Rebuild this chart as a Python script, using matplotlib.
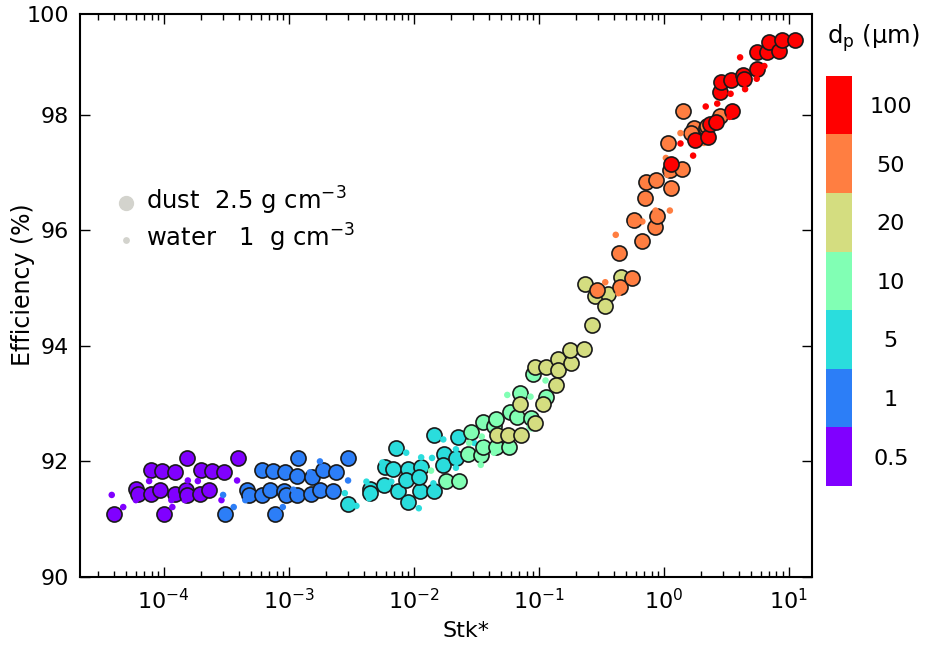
import numpy as np
import matplotlib.pyplot as plt
from matplotlib.colors import ListedColormap, BoundaryNorm
from matplotlib.cm import ScalarMappable
from matplotlib.ticker import LogLocator, NullFormatter

# particle diameters (um) and their colour classes
dp_labels = ['0.5', '1', '5', '10', '20', '50', '100']

# dust particles (2.5 g cm-3): log10(Stk*) and efficiency (%) per diameter class
dust_05_logstk = [-4.396, -4.223, -4.209, -4.104, -4.104, -4.032, -4.010, -3.998, -3.912, -3.912,
                  -3.817, -3.825, -3.811, -3.711, -3.700, -3.639, -3.612, -3.520, -3.408]
dust_05_eff = [91.09, 91.52, 91.44, 91.85, 91.44, 91.51, 91.84, 91.09, 91.81, 91.44,
               92.06, 91.51, 91.42, 91.44, 91.85, 91.51, 91.84, 91.81, 92.06]
dust_1_logstk = [-3.506, -3.334, -3.321, -3.214, -3.214, -3.148, -3.127, -3.108, -3.029, -3.037, -3.021,
                 -2.936, -2.923, -2.931, -2.816, -2.824, -2.750, -2.724, -2.644, -2.623, -2.525]
dust_1_eff = [91.09, 91.51, 91.42, 91.85, 91.42, 91.51, 91.84, 91.09, 91.81, 91.49, 91.42,
              91.74, 92.06, 91.42, 91.73, 91.44, 91.51, 91.85, 91.49, 91.82, 92.06]
dust_5_logstk = [-2.525, -2.352, -2.346, -2.240, -2.232, -2.166, -2.139, -2.127, -2.047, -2.047,
                 -2.060, -1.948, -1.940, -1.954, -1.834, -1.834, -1.755, -1.768, -1.662, -1.643]
dust_5_eff = [91.26, 91.52, 91.45, 91.59, 91.91, 91.87, 92.23, 91.49, 91.29, 91.87,
              91.67, 91.49, 91.90, 91.73, 91.49, 92.46, 92.13, 91.94, 92.06, 92.42]
dust_10_logstk = [-1.741, -1.635, -1.569, -1.542, -1.458, -1.444, -1.444, -1.357, -1.338, -1.343,
                  -1.237, -1.232, -1.171, -1.065, -1.150, -1.046, -0.940]
dust_10_eff = [91.66, 91.66, 92.13, 92.51, 92.11, 92.25, 92.69, 92.61, 92.73, 92.25,
               92.25, 92.86, 92.77, 92.75, 93.19, 93.52, 93.12]
dust_20_logstk = [-1.330, -1.243, -1.144, -1.152, -0.969, -1.030, -1.030, -0.945, -0.845, -0.847,
                  -0.861, -0.738, -0.746, -0.640, -0.574, -0.632, -0.547, -0.447, -0.467, -0.343]
dust_20_eff = [92.46, 92.46, 92.46, 92.99, 92.99, 92.66, 93.64, 93.64, 93.77, 93.58,
               93.32, 93.70, 93.93, 93.95, 94.36, 95.07, 94.87, 94.90, 94.69, 95.19]
dust_50_logstk = [-0.534, -0.348, -0.250, -0.361, -0.176, -0.069, -0.049, -0.234, -0.149, -0.141, -0.057,
                  0.058, 0.050, 0.150, 0.037, 0.156, 0.244, 0.222, 0.342, 0.350, 0.448]
dust_50_eff = [94.96, 95.02, 95.17, 95.61, 95.81, 96.06, 96.25, 96.17, 96.56, 96.83, 96.86,
               96.73, 97.04, 97.06, 97.51, 98.07, 97.77, 97.69, 97.77, 97.81, 97.97]
dust_100_logstk = [0.063, 0.249, 0.355, 0.369, 0.422, 0.546, 0.448, 0.456, 0.541, 0.634,
                   0.647, 0.748, 0.748, 0.825, 0.846, 0.926, 0.944, 1.050]
dust_100_eff = [97.15, 97.56, 97.61, 97.84, 97.87, 98.07, 98.39, 98.57, 98.59, 98.69,
                98.62, 98.79, 99.08, 99.08, 99.25, 99.10, 99.29, 99.29]

# water droplets (1 g cm-3)
water_05_logstk = [-4.416, -4.324, -4.223, -4.117, -3.939, -3.931, -3.830, -3.807, -3.727, -3.538, -3.413]
water_05_eff = [91.42, 91.21, 91.33, 91.66, 91.33, 91.21, 91.33, 91.67, 91.66, 91.33, 91.67]
water_1_logstk = [-3.525, -3.440, -3.347, -3.228, -3.047, -2.963, -2.830, -2.750, -2.525]
water_1_eff = [91.42, 91.21, 91.33, 91.80, 91.21, 91.51, 91.81, 92.00, 91.67]
water_5_logstk = [-2.551, -2.458, -2.378, -2.357, -2.251, -2.179, -2.060, -1.959, -1.940, -1.853,
                  -1.842, -1.763, -1.662, -1.662, -1.516]
water_5_eff = [91.45, 91.23, 91.65, 91.36, 91.98, 91.65, 92.15, 91.19, 92.07, 92.06,
               91.62, 92.38, 92.21, 91.89, 92.32]
water_10_logstk = [-1.861, -1.556, -1.463, -1.455, -1.357, -1.251, -1.072, -1.065, -0.945, -1.057]
water_10_eff = [91.84, 92.32, 91.94, 92.43, 92.15, 93.15, 92.60, 93.12, 93.40, 92.57]
water_20_logstk = []
water_20_eff = []
water_50_logstk = [-0.467, -0.383, -0.361, -0.256, -0.170, -0.064, 0.050, 0.018, 0.031, 0.135, 0.323]
water_50_eff = [95.10, 95.92, 94.91, 96.12, 96.15, 96.34, 96.34, 97.25, 96.96, 97.68, 97.51]
water_100_logstk = [0.135, 0.236, 0.337, 0.429, 0.536, 0.528, 0.612, 0.745, 0.806, 0.652]
water_100_eff = [97.50, 97.29, 98.14, 98.19, 98.36, 97.96, 98.99, 98.62, 98.84, 98.44]

dust_groups = [(dust_05_logstk, dust_05_eff), (dust_1_logstk, dust_1_eff), (dust_5_logstk, dust_5_eff),
               (dust_10_logstk, dust_10_eff), (dust_20_logstk, dust_20_eff), (dust_50_logstk, dust_50_eff),
               (dust_100_logstk, dust_100_eff)]
water_groups = [(water_05_logstk, water_05_eff), (water_1_logstk, water_1_eff), (water_5_logstk, water_5_eff),
                (water_10_logstk, water_10_eff), (water_20_logstk, water_20_eff), (water_50_logstk, water_50_eff),
                (water_100_logstk, water_100_eff)]

colors = plt.cm.rainbow(np.linspace(0, 1, len(dp_labels)))

plt.rcParams['font.family'] = 'DejaVu Sans'
fig = plt.figure(figsize=(9.27, 6.46), dpi=100)
ax = fig.add_axes([0.0863, 0.1068, 0.790, 0.8715])

for i, c in enumerate(colors):
    ls, ef = dust_groups[i]
    ax.scatter(10 ** np.array(ls), ef, s=118, color=c, edgecolors='#1a1a1a', linewidths=1.2, zorder=3)
    ls, ef = water_groups[i]
    if ls:
        ax.scatter(10 ** np.array(ls), ef, s=22, color=c, edgecolors='none', zorder=3)

ax.set_xscale('log')
ax.set_xlim(10 ** -4.67, 10 ** 1.19)
ax.set_ylim(90, 99.74)
ax.set_yticks([90, 92, 94, 96, 98, 99.74], ['90', '92', '94', '96', '98', '100'])
ax.xaxis.set_minor_locator(LogLocator(base=10, subs=np.arange(2, 10), numticks=20))
ax.xaxis.set_minor_formatter(NullFormatter())
ax.tick_params(which='both', direction='in', top=True, right=True, labelsize=16, width=1)
ax.tick_params(which='major', length=7, pad=8)
ax.tick_params(which='minor', length=4)
ax.yaxis.get_major_ticks()[-1].tick1line.set_visible(False)
ax.yaxis.get_major_ticks()[-1].tick2line.set_visible(False)
for sp in ax.spines.values():
    sp.set_linewidth(1.5)

ax.set_xlabel('Stk*', fontsize=16)
ax.xaxis.set_label_coords(0.527, -0.078)
ax.set_ylabel('Efficiency (%)', fontsize=17)
ax.yaxis.set_label_coords(-0.061, 0.52)

# density legend in grey
h1 = ax.scatter([], [], s=100, color='#d3d3cd')
h2 = ax.scatter([], [], s=15, color='#d3d3cd')
ax.legend([h1, h2], ['dust  2.5 g cm$^{-3}$', 'water   1  g cm$^{-3}$'],
          loc='center left', bbox_to_anchor=(0.0, 0.635), frameon=False,
          fontsize=17.5, handletextpad=-0.2, labelspacing=0.2, scatterpoints=1)

# discrete diameter colour bar
cmap = ListedColormap(colors)
norm = BoundaryNorm(np.arange(len(dp_labels) + 1), cmap.N)
cax = fig.add_axes([0.891, 0.2477, 0.028, 0.635])
cbar = fig.colorbar(ScalarMappable(norm=norm, cmap=cmap), cax=cax)
cbar.outline.set_visible(False)
cbar.set_ticks(np.arange(len(dp_labels)) + 0.5, labels=dp_labels)
cax.minorticks_off()
cax.tick_params(length=0, pad=28, labelsize=16)
for t in cax.get_yticklabels():
    t.set_ha('center')
fig.text(873 / 927, 1 - 38 / 646, 'd$_\\mathregular{p}$ (μm)', fontsize=17.5, ha='center', va='center')

fig.savefig('out.png', dpi=100)
